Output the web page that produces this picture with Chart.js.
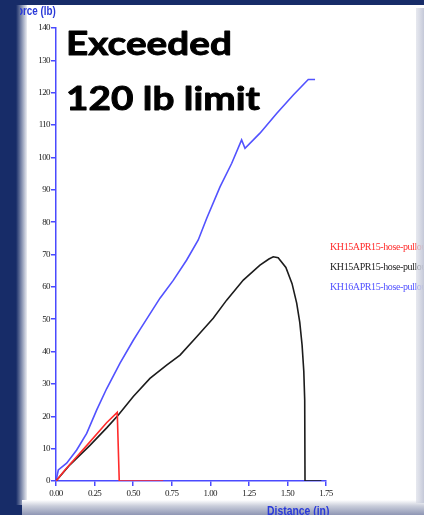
<!DOCTYPE html>
<html lang="en">

<head>
  <meta charset="UTF-8">
  <title>Hose pullout - force vs distance</title>
  <script src="https://cdn.jsdelivr.net/npm/chart.js"></script>
  <style>
    html, body { margin: 0; padding: 0; background: #172c68; }
    canvas { display: block; }
  </style>
</head>

<body>

  <canvas id="myChart" width="424" height="515"></canvas>

  <script>
    // Series names (legend on the right, cut off by the slide edge)
    const seriesLabels = ['KH15APR15-hose-pullout', 'KH15APR15-hose-pullout', 'KH16APR15-hose-pullout'];

    // Red test: breaks at ~0.4 in
    const redDist = [0, 0.058, 0.2, 0.328, 0.397, 0.41, 0.695];
    const redForce = [0, 3.4, 11, 18, 21.2, 0, 0];

    // Black test
    const blackDist = [0, 0.09, 0.22, 0.33, 0.404, 0.501, 0.609, 0.717, 0.804, 0.912, 1.019, 1.106, 1.214, 1.322, 1.38, 1.408, 1.44, 1.49, 1.53, 1.56, 1.58, 1.595, 1.606, 1.612, 1.614, 1.72];
    const blackForce = [0, 5, 11, 16.5, 20.4, 26.1, 31.7, 35.8, 38.9, 44.6, 50.3, 55.9, 62.1, 66.7, 68.6, 69.3, 69, 66, 61, 55, 49, 42, 34, 25, 0, 0];

    // Blue test: goes past 120 lb
    const blueDist = [0, 0.015, 0.069, 0.134, 0.199, 0.264, 0.328, 0.415, 0.501, 0.544, 0.674, 0.76, 0.847, 0.922, 0.977, 1.063, 1.139, 1.203, 1.225, 1.322, 1.43, 1.538, 1.635, 1.679];
    const blueForce = [0, 3.4, 5.5, 9.6, 14.7, 22, 28.5, 36.4, 43.5, 46.8, 56.5, 62, 68.3, 74.5, 81.2, 90.9, 98.2, 105.4, 102.8, 107.5, 113.6, 119.3, 124.1, 124.1];

    const seriesColors = ['#ff2b2b', '#1c1c1c', '#5252ff'];
    const axisBlue = '#4a4aff';

    const toPoints = (xs, ys) => xs.map((x, i) => ({ x: x, y: ys[i] }));

    // slide background: navy frame with white panel
    const slideBackground = {
      id: 'slideBackground',
      beforeDraw(chart) {
        const ctx = chart.ctx;
        ctx.save();
        ctx.fillStyle = '#172c68';
        ctx.fillRect(0, 0, 424, 515);
        // soft shadow on the left edge of the panel
        const g = ctx.createLinearGradient(16, 0, 28, 0);
        g.addColorStop(0, '#172c68');
        g.addColorStop(1, '#ffffff');
        ctx.fillStyle = g;
        ctx.fillRect(16, 5, 12, 500);
        ctx.fillStyle = '#ffffff';
        ctx.fillRect(27, 5, 397, 499);
        // bottom edge band
        const gb = ctx.createLinearGradient(0, 500, 0, 515);
        gb.addColorStop(0, '#ffffff');
        gb.addColorStop(0.4, '#c9cdda');
        gb.addColorStop(1, '#8e96b4');
        ctx.fillStyle = gb;
        ctx.fillRect(22, 500, 402, 15);
        ctx.restore();
        ctx.letterSpacing = '-0.6px';
      },
      beforeDatasetsDraw(chart) {
        chart.ctx.letterSpacing = '0px';
      }
    };

    // axis titles, legend text and the call-out
    const overlayText = {
      id: 'overlayText',
      afterDraw(chart) {
        const ctx = chart.ctx;
        ctx.save();

        // y axis title, its first letter hidden behind the frame
        ctx.save();
        ctx.beginPath();
        ctx.rect(20, 0, 200, 40);
        ctx.clip();
        ctx.fillStyle = '#2a3ad8';
        ctx.font = 'bold 12px "Liberation Sans"';
        ctx.textBaseline = 'alphabetic';
        ctx.translate(11, 15);
        ctx.scale(0.82, 1);
        ctx.fillText('Force (lb)', 0, 0);
        ctx.restore();

        // x axis title at the bottom edge
        ctx.save();
        ctx.fillStyle = '#2a3ad8';
        ctx.font = 'bold 13px "Liberation Sans"';
        ctx.translate(267, 515);
        ctx.scale(0.8, 1);
        ctx.fillText('Distance (in)', 0, 0);
        ctx.restore();

        // legend
        ctx.font = '10px "Liberation Serif"';
        ctx.letterSpacing = '-0.4px';
        ctx.textBaseline = 'middle';
        const legendY = [247, 267, 287];
        chart.data.datasets.forEach((ds, i) => {
          ctx.fillStyle = ds.borderColor;
          ctx.fillText(ds.label, 330, legendY[i]);
        });
        ctx.letterSpacing = '0px';

        // right edge strip of the slide
        const gr = ctx.createLinearGradient(416, 0, 424, 0);
        gr.addColorStop(0, 'rgba(214,217,228,0.6)');
        gr.addColorStop(1, '#c4c8d8');
        ctx.fillStyle = gr;
        ctx.fillRect(416, 8, 8, 495);

        // call-out text
        ctx.fillStyle = '#000000';
        ctx.strokeStyle = '#000000';
        ctx.lineWidth = 0.9;
        ctx.lineJoin = 'round';
        ctx.font = 'bold 32px Lato';
        ctx.textBaseline = 'alphabetic';
        const sx = 194 / ctx.measureText('120 lb limit').width;
        ctx.translate(66, 0);
        ctx.scale(sx, 1);
        ['Exceeded', '120 lb limit'].forEach((t, i) => {
          ctx.fillText(t, 0, 55 + i * 55);
          ctx.strokeText(t, 0, 55 + i * 55);
        });
        ctx.restore();
      }
    };

    const data = {
      datasets: [
        { label: seriesLabels[0], data: toPoints(redDist, redForce) },
        { label: seriesLabels[1], data: toPoints(blackDist, blackForce) },
        { label: seriesLabels[2], data: toPoints(blueDist, blueForce) }
      ].map((ds, i) => Object.assign(ds, {
        borderColor: seriesColors[i],
        backgroundColor: seriesColors[i],
        borderWidth: 1.6,
        pointRadius: 0,
        showLine: true,
        tension: 0
      }))
    };

    const axisCommon = {
      type: 'linear',
      grid: { drawOnChartArea: false, drawTicks: true, tickLength: 5, color: axisBlue, lineWidth: 1.5 },
      border: { color: axisBlue, width: 1.5 }
    };

    const config = {
      type: 'scatter',
      data: data,
      plugins: [slideBackground, overlayText],
      options: {
        responsive: false,
        animation: false,
        devicePixelRatio: 1,
        layout: { padding: { top: 28, right: 98, bottom: 0, left: 0 } },
        plugins: {
          legend: { display: false },
          tooltip: { enabled: false }
        },
        scales: {
          x: Object.assign({}, axisCommon, {
            min: 0,
            max: 1.75,
            afterFit: s => { s.height = 34; },
            ticks: {
              stepSize: 0.25,
              autoSkip: false,
              maxRotation: 0,
              padding: 2,
              color: '#222222',
              font: { family: 'Liberation Serif', size: 9 },
              callback: v => v.toFixed(2)
            }
          }),
          y: Object.assign({}, axisCommon, {
            min: 0,
            max: 140,
            afterFit: s => { s.width = 56; },
            ticks: {
              stepSize: 10,
              padding: 1,
              color: '#222222',
              font: { family: 'Liberation Serif', size: 9 }
            }
          })
        }
      }
    };

    const myChart = new Chart(document.getElementById('myChart'), config);
  </script>

</body>

</html>
